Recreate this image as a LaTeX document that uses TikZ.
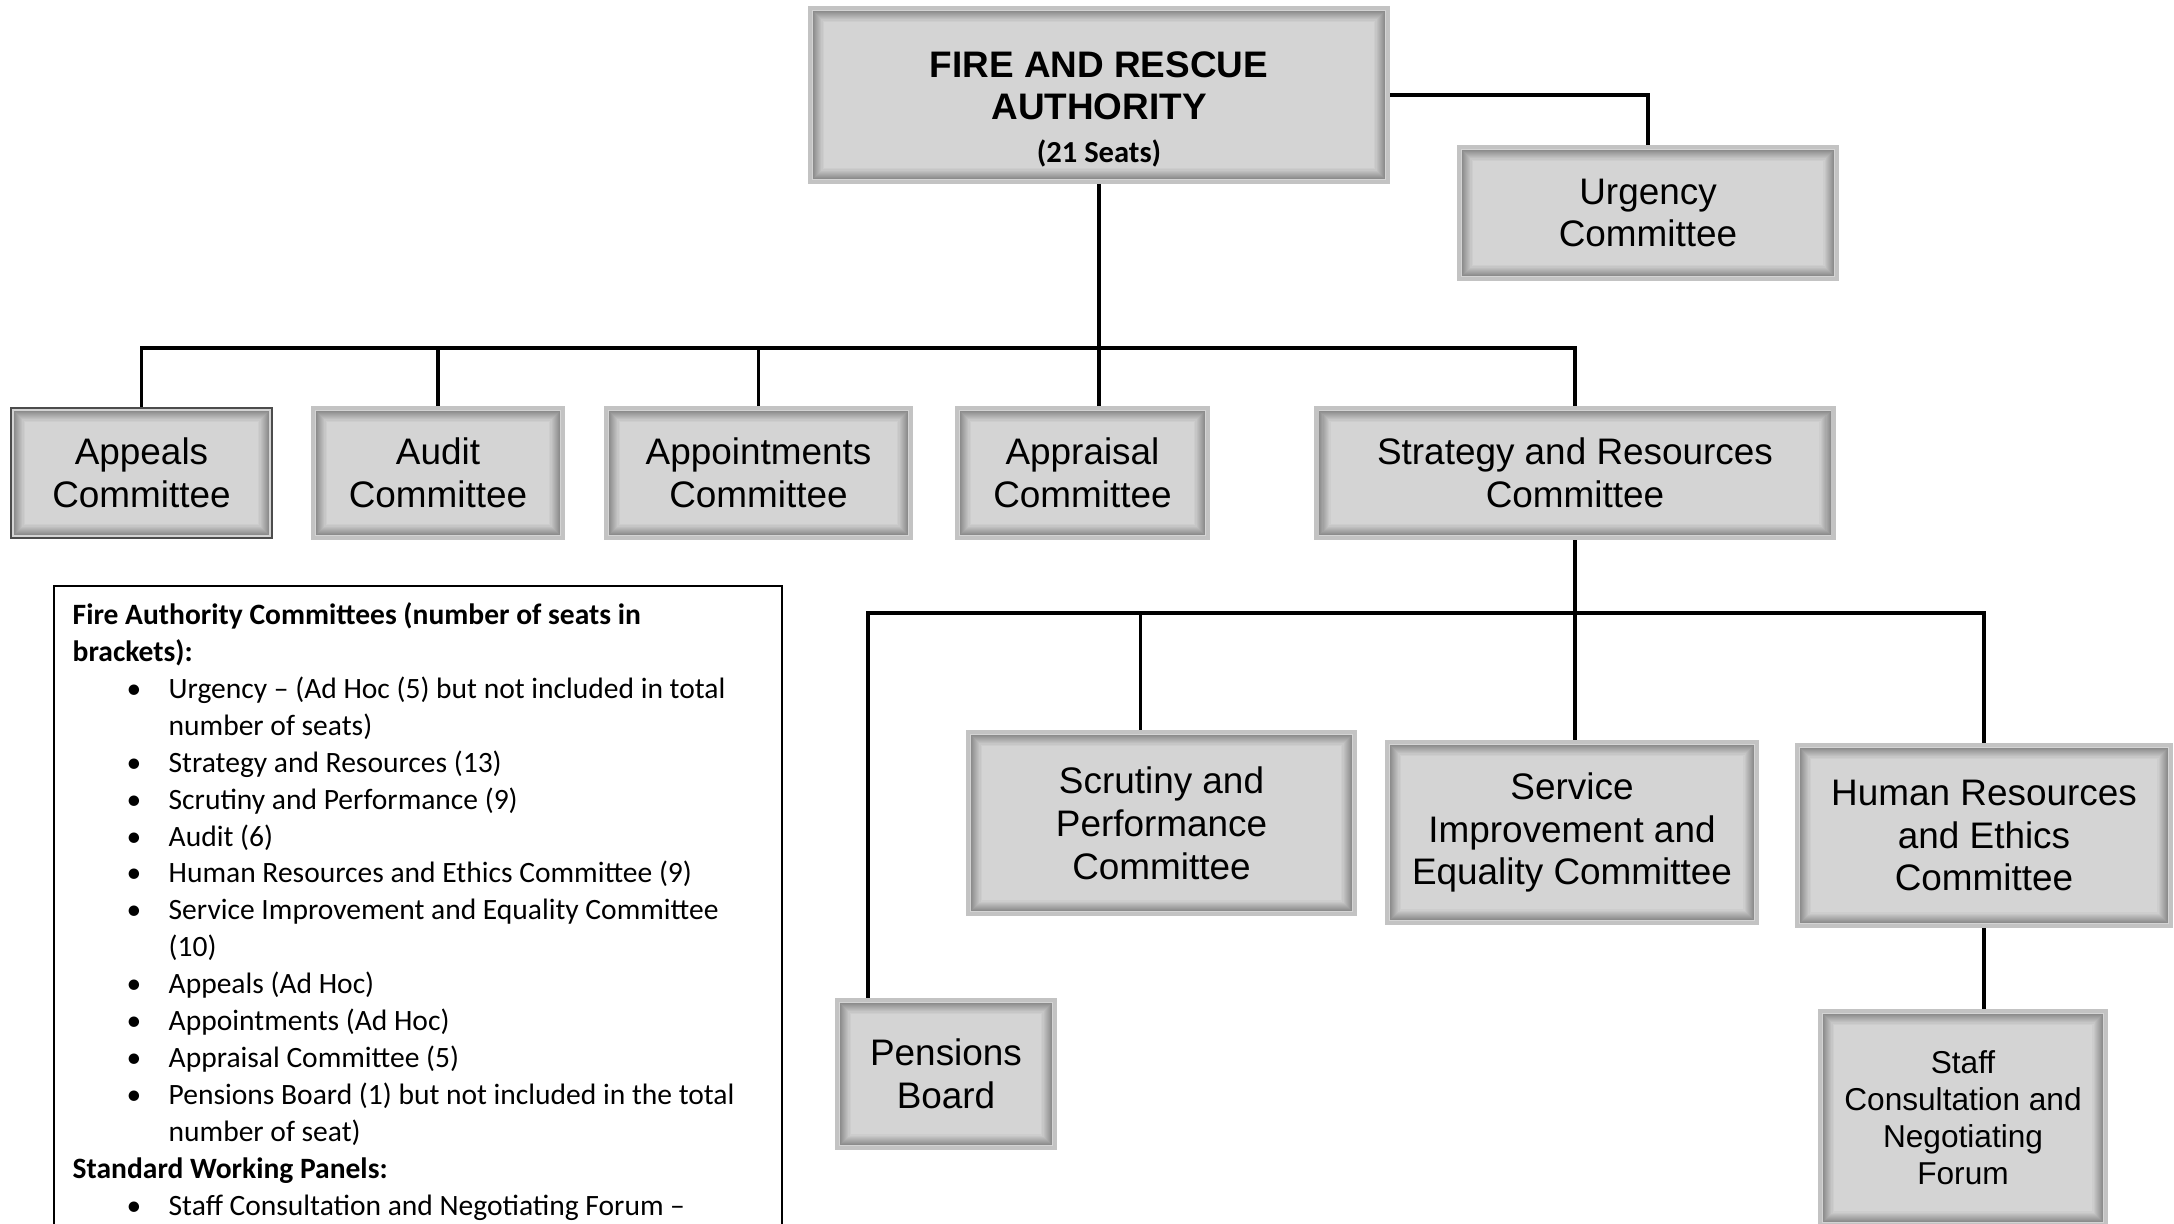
\documentclass[tikz,border=0pt]{standalone}
\usepackage{fontspec}
\setmainfont{Liberation Sans}
\newfontfamily\legfont{Carlito}
\usetikzlibrary{calc}
\definecolor{boxgray}{RGB}{212,212,212}
\definecolor{boxrim}{RGB}{195,195,195}
\definecolor{shadowgray}{RGB}{140,140,140}
\newcommand{\legitem}{\hspace*{0.54cm}\makebox[0.42cm][l]{\textbullet}}
\newcommand{\legcont}{\hspace*{0.96cm}}

\begin{document}
\begin{tikzpicture}[
  org/.style={draw=boxrim, line width=1.2pt, fill=boxgray, align=center, inner sep=0pt,
    font=\fontsize{10.5}{12.2}\selectfont,
    path picture={
      \foreach \k in {0,...,9}{
        \pgfmathtruncatemacro\mix{100-10*\k}
        \draw[shadowgray!\mix!boxgray, line width=0.5pt]
          ([shift={(0.035+0.011*\k,0.035+0.011*\k)}]path picture bounding box.south west) rectangle
          ([shift={(-0.035-0.011*\k,-0.035-0.011*\k)}]path picture bounding box.north east);
      }}},
  link/.style={line width=1.1pt}
]
\useasboundingbox (0,0) rectangle (21.74,-12.23);

% top
\node[org, minimum width=5.78cm, minimum height=1.74cm] (far) at (10.99,-0.95)
  {\rule{0pt}{15.5pt}\textbf{FIRE AND RESCUE}\\\textbf{AUTHORITY}\\{\legfont\bfseries\fontsize{8.7}{10}\selectfont (21 Seats)}};
\node[org, minimum width=3.78cm, minimum height=1.32cm] (urg) at (16.48,-2.13) {Urgency\\Committee};

% committees
\node[org, draw=black!70, line width=0.7pt, minimum width=2.61cm, minimum height=1.30cm] (appeals) at (1.415,-4.73) {Appeals\\Committee};
\node[org, minimum width=2.50cm, minimum height=1.30cm] (audit) at (4.38,-4.73) {Audit\\Committee};
\node[org, minimum width=3.05cm, minimum height=1.30cm] (appoint) at (7.585,-4.73) {Appointments\\Committee};
\node[org, minimum width=2.51cm, minimum height=1.30cm] (apprais) at (10.825,-4.73) {Appraisal\\Committee};
\node[org, minimum width=5.17cm, minimum height=1.30cm] (strat) at (15.75,-4.73) {Strategy and Resources\\Committee};

% sub committees
\node[org, minimum width=3.87cm, minimum height=1.82cm] (scrut) at (11.615,-8.23) {Scrutiny and\\Performance\\Committee};
\node[org, minimum width=3.70cm, minimum height=1.81cm] (serv) at (15.72,-8.325) {Service\\Improvement and\\Equality Committee};
\node[org, minimum width=3.74cm, minimum height=1.81cm] (hr) at (19.84,-8.355) {Human Resources\\and Ethics\\Committee};
\node[org, minimum width=2.18cm, minimum height=1.48cm] (pens) at (9.46,-10.74) {Pensions\\Board};
\node[org, minimum width=2.86cm, minimum height=2.14cm, font=\fontsize{9}{10.5}\selectfont] (staff) at (19.63,-11.18)
  {Staff\\Consultation and\\Negotiating\\Forum};

\coordinate (bus) at (0,-3.48);
\coordinate (bus2) at (0,-6.13);

\draw[link] (far.east) -| (urg.north);
\draw[link] (far.south) -- (far.south |- apprais.north);
\draw[link] (appeals.north) -- (appeals.north |- bus) -- (strat.north |- bus) -- (strat.north);
\foreach \n in {audit,appoint}
  \draw[link] (\n.north) -- (\n.north |- bus);
\draw[link] (strat.south) -- (strat.south |- serv.north);
\draw[link] ([xshift=-0.78cm]pens.north) -- ([xshift=-0.78cm]pens.north |- bus2) -- (hr.north |- bus2) -- (hr.north);
\draw[link] ([xshift=-0.21cm]scrut.north) -- ([xshift=-0.21cm]scrut.north |- bus2);
\draw[link] (hr.south) -- (hr.south |- staff.north);

% legend
\node[draw, line width=0.6pt, anchor=north west, minimum width=7.28cm, minimum height=6.7cm] (legend) at (0.53,-5.85) {};
\node[anchor=north west, align=left, inner sep=0pt, font=\legfont\fontsize{8.4}{10.5}\selectfont] (legtext)
  at ([shift={(0.19,-0.17)}]legend.north west) {%
\textbf{Fire Authority Committees (number of seats in}\\
\textbf{brackets):}\\
\legitem Urgency – (Ad Hoc (5) but not included in total\\
\legcont number of seats)\\
\legitem Strategy and Resources (13)\\
\legitem Scrutiny and Performance (9)\\
\legitem Audit (6)\\
\legitem Human Resources and Ethics Committee (9)\\
\legitem Service Improvement and Equality Committee\\
\legcont (10)\\
\legitem Appeals (Ad Hoc)\\
\legitem Appointments (Ad Hoc)\\
\legitem Appraisal Committee (5)\\
\legitem Pensions Board (1) but not included in the total\\
\legcont number of seat)\\
\textbf{Standard Working Panels:}\\
\legitem Staff Consultation and Negotiating Forum –};
\end{tikzpicture}
\end{document}
